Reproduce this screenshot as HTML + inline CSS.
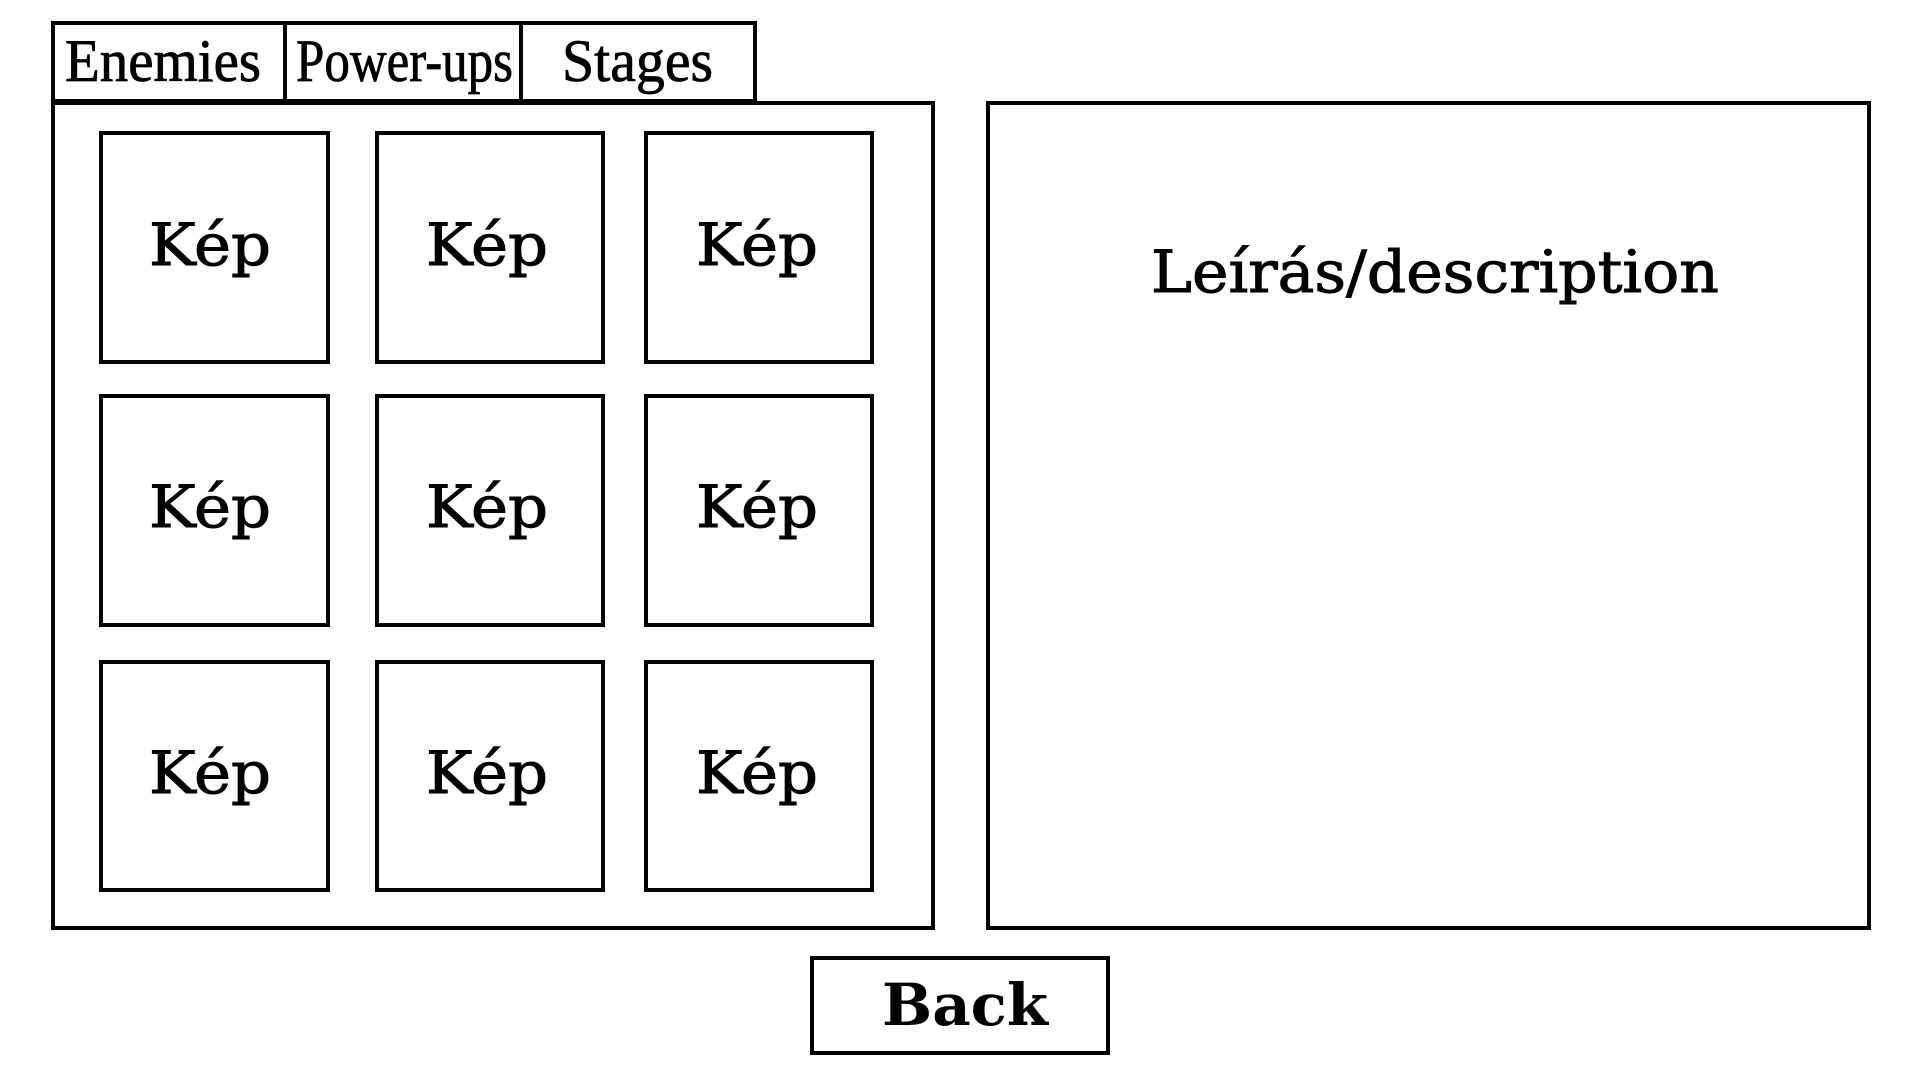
<!DOCTYPE html>
<html><head><meta charset="utf-8"><style>html,body{margin:0;padding:0;background:#fff}</style></head>
<body>
<svg width="1920" height="1080" xmlns="http://www.w3.org/2000/svg" font-family="'DejaVu Serif','Liberation Serif',serif">
<g fill="none" stroke="#000" stroke-width="4">
<rect x="53" y="23" width="232" height="78"/>
<rect x="285" y="23" width="236" height="78"/>
<rect x="521" y="23" width="234" height="78"/>
<rect x="53" y="103" width="880" height="825"/>
<rect x="988" y="103" width="881" height="825"/>
<rect x="101" y="133" width="227" height="229"/>
<rect x="377" y="133" width="226" height="229"/>
<rect x="646" y="133" width="226" height="229"/>
<rect x="101" y="396" width="227" height="229"/>
<rect x="377" y="396" width="226" height="229"/>
<rect x="646" y="396" width="226" height="229"/>
<rect x="101" y="662" width="227" height="228"/>
<rect x="377" y="662" width="226" height="228"/>
<rect x="646" y="662" width="226" height="228"/>
<rect x="812" y="958" width="296" height="95"/>
</g>
<g font-family="'Liberation Serif',serif" font-size="60" fill="#000" stroke="#000" stroke-width="0.8">
<text x="65" y="81" textLength="196" lengthAdjust="spacingAndGlyphs">Enemies</text>
<text x="296" y="81" textLength="217" lengthAdjust="spacingAndGlyphs">Power-ups</text>
<text x="562" y="81" textLength="151" lengthAdjust="spacingAndGlyphs">Stages</text>
</g>
<g font-size="58" fill="#000" stroke="#000" stroke-width="1">
<text x="149" y="265" textLength="122" lengthAdjust="spacingAndGlyphs">Kép</text>
<text x="426" y="265" textLength="122" lengthAdjust="spacingAndGlyphs">Kép</text>
<text x="696" y="265" textLength="122" lengthAdjust="spacingAndGlyphs">Kép</text>
<text x="149" y="527" textLength="122" lengthAdjust="spacingAndGlyphs">Kép</text>
<text x="426" y="527" textLength="122" lengthAdjust="spacingAndGlyphs">Kép</text>
<text x="696" y="527" textLength="122" lengthAdjust="spacingAndGlyphs">Kép</text>
<text x="149" y="793" textLength="122" lengthAdjust="spacingAndGlyphs">Kép</text>
<text x="426" y="793" textLength="122" lengthAdjust="spacingAndGlyphs">Kép</text>
<text x="696" y="793" textLength="122" lengthAdjust="spacingAndGlyphs">Kép</text>
<text x="1151" y="292" textLength="568" lengthAdjust="spacingAndGlyphs">Leírás/description</text>
<text x="882" y="1025" font-weight="bold" stroke-width="0" textLength="166" lengthAdjust="spacingAndGlyphs">Back</text>
</g>
</svg>
</body></html>
